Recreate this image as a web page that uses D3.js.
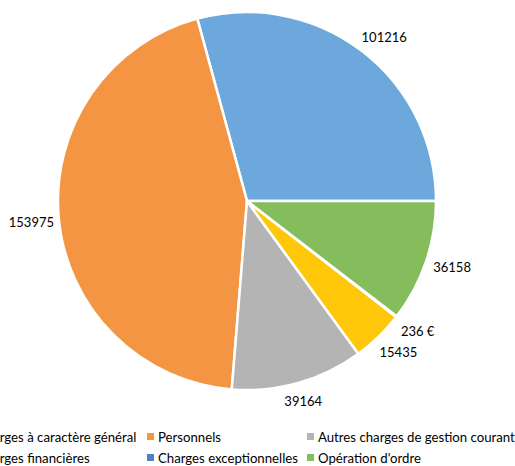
<!DOCTYPE html>
<html>
<head>
<meta charset="utf-8">
<script src="https://cdnjs.cloudflare.com/ajax/libs/d3/7.8.5/d3.min.js"></script>
<style>
  body { margin: 0; background: #fff; }
  text { font-family: Lato, "Open Sans", sans-serif; fill: #000; }
</style>
</head>
<body>
<div id="chart"></div>
<script>
// data
var categories = ["Charges à caractère général", "Personnels", "Autres charges de gestion courante",
                  "Charges financières", "Charges exceptionnelles", "Opération d'ordre"];
var values = [101216, 153975, 39164, 15435, 236, 36158];
var labels = ["101216", "153975", "39164", "15435", "236 €", "36158"];
var colors = ["#6CA8DC", "#F39542", "#B4B4B4", "#FFC709", "#4F81C7", "#85BC5C"];

var width = 515, height = 466;
var cx = 247, cy = 201, radius = 189;

var svg = d3.select("#chart")
  .append("svg")
    .attr("width", width)
    .attr("height", height);

var g = svg.append("g")
    .attr("transform", "translate(" + cx + "," + cy + ")");

// counter-clockwise, first slice ending at 3 o'clock
var pie = d3.pie()
    .sort(null)
    .startAngle(Math.PI / 2)
    .endAngle(Math.PI / 2 - 2 * Math.PI);

var arcs = pie(values);

var arc = d3.arc()
    .innerRadius(0)
    .outerRadius(radius);

g.selectAll("path")
  .data(arcs)
  .enter()
  .append("path")
    .attr("d", arc)
    .style("fill", function(d, i) { return colors[i]; })
    .style("stroke", "#fff")
    .style("stroke-width", 2.5)
    .style("stroke-linejoin", "round");

// data labels outside the slices
var labelArc = d3.arc()
    .innerRadius(radius * 1.135)
    .outerRadius(radius * 1.135);

// small shifts so labels sit where excel put them
var nudge = [[7, 7], [-2, 2], [-2, -6], [2, -3], [1, -1], [2, -3]];

g.selectAll(".label")
  .data(arcs)
  .enter()
  .append("text")
    .attr("class", "label")
    .attr("transform", function(d, i) {
      var c = labelArc.centroid(d);
      return "translate(" + (c[0] + nudge[i][0]) + "," + (c[1] + nudge[i][1]) + ")";
    })
    .attr("text-anchor", "middle")
    .attr("dy", "0.35em")
    .style("font-size", "13px")
    .text(function(d, i) { return labels[i]; });

// legend, three columns, two rows
var colX = [-34, 147, 307];
var rowY = [437, 458];

var legend = svg.selectAll(".legend")
  .data(categories)
  .enter()
  .append("g")
    .attr("class", "legend")
    .attr("transform", function(d, i) {
      return "translate(" + colX[i % 3] + "," + rowY[Math.floor(i / 3)] + ")";
    });

legend.append("rect")
    .attr("x", 0)
    .attr("y", -4)
    .attr("width", 7)
    .attr("height", 7)
    .style("fill", function(d, i) { return colors[i]; });

legend.append("text")
    .attr("x", 11)
    .attr("y", 0)
    .attr("dy", "0.35em")
    .style("font-size", "13.2px")
    .text(function(d) { return d; });
</script>
</body>
</html>
